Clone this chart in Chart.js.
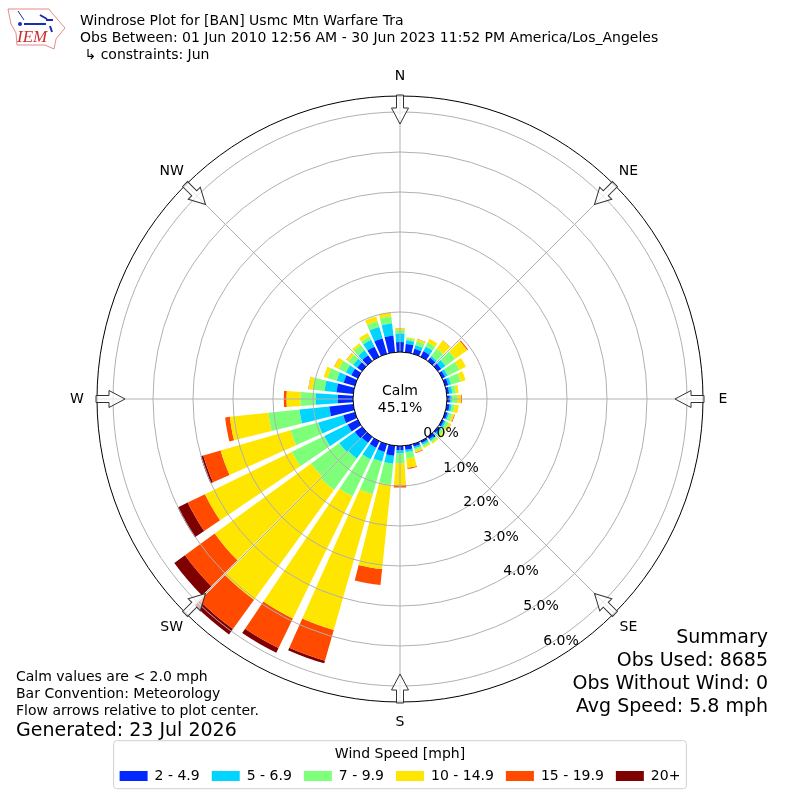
<!DOCTYPE html>
<html>
<head>
<meta charset="utf-8">
<title>Windrose</title>
<script src="https://cdn.jsdelivr.net/npm/chart.js@4/dist/chart.umd.js"></script>
<style>
  html, body { margin: 0; padding: 0; background: #fff; }
  #wrap { width: 800px; height: 800px; }
  canvas { display: block; }
</style>
</head>
<body>
<div id="wrap"><canvas id="rose" width="800" height="800"></canvas></div>
<script>
// Data, frequency in percent by direction the wind blows from
const directions = [0, 10, 20, 30, 40, 50, 60, 70, 80, 90, 100, 110, 120, 130, 140, 150, 160, 170,
  180, 190, 200, 210, 220, 230, 240, 250, 260, 270, 280, 290, 300, 310, 320, 330, 340, 350];
const speed2to5 = [.25, .21, .13, .15, .10, .10, .08, .08, .06, .07, .07, .06, .05, .05, .07, .05, .06, .10,
  .10, .25, .20, .18, .18, .22, .28, .30, .60, .38, .42, .29, .18, .15, .18, .28, .40, .42];
const speed5to7 = [.21, .09, .09, .13, .05, .13, .07, .07, .08, .05, .05, .04, .05, .05, .05, .05, .05, .06,
  .08, .20, .25, .32, .48, .48, .65, .65, .75, .55, .30, .18, .15, .12, .15, .19, .30, .30];
const speed7to10 = [.09, .05, .11, .12, .23, .30, .33, .25, .09, .13, .08, .08, .08, .08, .05, .05, .05, .16,
  .25, .53, .85, 1.03, .97, .87, .90, .72, .78, .38, .30, .24, .20, .15, .16, .09, .15, .18];
const speed10to15 = [.04, .03, .05, .10, .25, .37, .18, .13, .07, .10, .10, .05, .06, .04, .04, .04, .05, .23,
  .55, 2.12, 3.53, 3.40, 3.40, 2.98, 2.42, 1.82, .97, .35, .10, .10, .12, .06, .06, .10, .12, .10];
const speed15to20 = [.01, 0, .01, 0, .01, .03, 0, 0, 0, .02, 0, .02, .01, .01, 0, 0, .02, .03,
  .06, .40, .80, .82, .90, .92, .48, .45, .12, .07, .01, 0, .01, .01, 0, 0, 0, 0];
const speed20up = [0, 0, 0, 0, 0, 0, 0, 0, 0, 0, 0, 0, 0, 0, 0, 0, 0, 0,
  0, 0, .07, .13, .17, .33, .28, .07, 0, 0, 0, 0, 0, 0, 0, 0, 0, 0];
const speedLabels = ["2 - 4.9", "5 - 6.9", "7 - 9.9", "10 - 14.9", "15 - 19.9", "20+"];
const speedColors = ["#0028ff", "#00d4ff", "#7dff7a", "#ffe600", "#ff4a00", "#7f0000"];
const tickValues = [0, 1, 2, 3, 4, 5, 6, 6.4];
const tickLabels = ["0.0%", "1.0%", "2.0%", "3.0%", "4.0%", "5.0%", "6.0%"];
const compassLabels = ["N", "NE", "E", "SE", "S", "SW", "W", "NW"];

const FONT = '"DejaVu Sans", sans-serif';
const BAR_SPAN = 8; // degrees, bins are 10 wide
// the two bars either side of SW nearly touch in the original
const BAR_TWEAK = { 220: { shift: 0.4, span: 8.8 }, 230: { shift: -0.4, span: 8.8 } };

// Stacked polar bars, the library polar area only does full wedges from the center
class WindRoseController extends Chart.PolarAreaController {
  updateElements(arcs, start, count, mode) {
    const chart = this.chart;
    const scale = chart.scales.r;
    const all = chart.data.datasets;
    for (let i = start; i < start + count; i++) {
      let stack = 0;
      for (let k = 0; k < this.index; k++) stack += all[k].data[i];
      const tweak = BAR_TWEAK[directions[i]] || { shift: 0, span: BAR_SPAN };
      const mid = (directions[i] + tweak.shift - 90) * Math.PI / 180;
      const half = (tweak.span / 2) * Math.PI / 180;
      this.updateElement(arcs[i], i, {
        x: scale.xCenter,
        y: scale.yCenter,
        startAngle: mid - half,
        endAngle: mid + half,
        innerRadius: scale.getDistanceFromCenterForValue(stack),
        outerRadius: scale.getDistanceFromCenterForValue(stack + all[this.index].data[i]),
        options: this.resolveDataElementOptions(i, mode),
      }, mode);
    }
  }
}
WindRoseController.id = "windrose";
WindRoseController.defaults = Chart.PolarAreaController.defaults;
WindRoseController.overrides = Chart.PolarAreaController.overrides;
Chart.register(WindRoseController);

function drawText(ctx, text, x, y, size, align) {
  ctx.font = size + "px " + FONT;
  ctx.fillStyle = "#000";
  ctx.textAlign = align || "left";
  ctx.textBaseline = "middle";
  ctx.fillText(text, x, y + size * 0.09); // canvas middle sits a bit high
}

// Flow arrow pointing at the center, drawn pointing "up" then rotated
function drawArrow(ctx, cx, cy, outer, deg) {
  ctx.save();
  ctx.translate(cx, cy);
  ctx.rotate(deg * Math.PI / 180);
  ctx.beginPath();
  ctx.moveTo(-3.5, -outer - 1);
  ctx.lineTo(3.5, -outer - 1);
  ctx.lineTo(3.5, -outer + 12);
  ctx.lineTo(8.5, -outer + 12);
  ctx.lineTo(0, -outer + 28);
  ctx.lineTo(-8.5, -outer + 12);
  ctx.lineTo(-3.5, -outer + 12);
  ctx.closePath();
  ctx.fillStyle = "rgba(255,255,255,0.7)";
  ctx.fill();
  ctx.strokeStyle = "#333";
  ctx.lineWidth = 1;
  ctx.stroke();
  ctx.restore();
}

function drawLogo(ctx) {
  ctx.save();
  ctx.strokeStyle = "#e58a8a";
  ctx.lineWidth = 1;
  ctx.beginPath();
  const outline = [[8, 9], [49, 9], [52, 13], [58, 20], [65, 28], [60, 34], [56, 39], [54, 49], [45, 45], [17, 45], [16, 33], [11, 24]];
  outline.forEach((p, i) => (i ? ctx.lineTo(p[0], p[1]) : ctx.moveTo(p[0], p[1])));
  ctx.closePath();
  ctx.stroke();
  ctx.strokeStyle = "#1a2fb0";
  ctx.fillStyle = "#1a2fb0";
  ctx.lineWidth = 2;
  ctx.beginPath();
  ctx.moveTo(24, 24); ctx.lineTo(46, 24);
  ctx.moveTo(40, 15); ctx.lineTo(47, 19);
  ctx.moveTo(46, 20); ctx.lineTo(53, 20);
  ctx.moveTo(50, 26); ctx.lineTo(52, 32);
  ctx.stroke();
  ctx.lineWidth = 1;
  ctx.beginPath();
  ctx.moveTo(18, 11); ctx.lineTo(24, 20);
  ctx.stroke();
  ctx.beginPath();
  ctx.arc(20, 24, 2, 0, Math.PI * 2);
  ctx.fill();
  ctx.font = 'italic 17px "Liberation Serif", serif';
  ctx.fillStyle = "#d02c2c";
  ctx.textAlign = "left";
  ctx.textBaseline = "middle";
  ctx.fillText("IEM", 17, 38);
  ctx.restore();
}

const rosePlugin = {
  id: "rosePlugin",
  // spokes sit under the rings but over the bars
  afterDatasetsDraw(chart) {
    const ctx = chart.ctx;
    const s = chart.scales.r;
    const inner = s.getDistanceFromCenterForValue(0);
    ctx.save();
    ctx.strokeStyle = "#b0b0b0";
    ctx.lineWidth = 1;
    compassLabels.forEach((label, i) => {
      const a = (i * 45 - 90) * Math.PI / 180;
      ctx.beginPath();
      ctx.moveTo(s.xCenter + inner * Math.cos(a), s.yCenter + inner * Math.sin(a));
      ctx.lineTo(s.xCenter + s.drawingArea * Math.cos(a), s.yCenter + s.drawingArea * Math.sin(a));
      ctx.stroke();
    });
    ctx.restore();
  },
  afterDraw(chart) {
    const ctx = chart.ctx;
    const s = chart.scales.r;
    ctx.save();

    // Compass arrows and labels
    compassLabels.forEach((label, i) => {
      const deg = i * 45;
      const a = (deg - 90) * Math.PI / 180;
      drawArrow(ctx, s.xCenter, s.yCenter, s.drawingArea, deg);
      drawText(ctx, label, s.xCenter + 323 * Math.cos(a), s.yCenter + 323 * Math.sin(a) - 1, 14, "center");
    });

    // Radial tick labels run along the 150 degree line
    const labelAngle = (150 - 90) * Math.PI / 180;
    tickLabels.forEach((label, i) => {
      const r = s.getDistanceFromCenterForValue(tickValues[i]);
      drawText(ctx, label, s.xCenter + r * Math.cos(labelAngle) + 17.5, s.yCenter + r * Math.sin(labelAngle) - 7.7, 14, "center");
    });

    // Calm
    drawText(ctx, "Calm", s.xCenter, 390, 14, "center");
    drawText(ctx, "45.1%", s.xCenter, 407, 14, "center");

    // Header
    drawLogo(ctx);
    drawText(ctx, "Windrose Plot for [BAN] Usmc Mtn Warfare Tra", 80, 20.5, 14);
    drawText(ctx, "Obs Between: 01 Jun 2010 12:56 AM - 30 Jun 2023 11:52 PM America/Los_Angeles", 80, 37, 14);
    drawText(ctx, " \u21b3 constraints: Jun", 80, 54, 14);

    // Footnotes
    drawText(ctx, "Calm values are < 2.0 mph", 16, 676, 14);
    drawText(ctx, "Bar Convention: Meteorology", 16, 693, 14);
    drawText(ctx, "Flow arrows relative to plot center.", 16, 710, 14);
    drawText(ctx, "Generated: 23 Jul 2026", 16, 729, 19);

    // Summary
    drawText(ctx, "Summary", 768, 636, 19, "right");
    drawText(ctx, "Obs Used: 8685", 768, 659, 19, "right");
    drawText(ctx, "Obs Without Wind: 0", 768, 682, 19, "right");
    drawText(ctx, "Avg Speed: 5.8 mph", 768, 705, 19, "right");

    // Legend frame
    const boxes = chart.legend.legendHitBoxes;
    const left = boxes[0].left - 6;
    const last = boxes[boxes.length - 1];
    const right = last.left + last.width + 6;
    ctx.beginPath();
    ctx.roundRect(left, chart.legend.top, right - left, 48, 3);
    ctx.strokeStyle = "#d0d0d0";
    ctx.lineWidth = 1;
    ctx.stroke();
    ctx.restore();
  },
};

const seriesValues = [speed2to5, speed5to7, speed7to10, speed10to15, speed15to20, speed20up];

new Chart(document.getElementById("rose"), {
  type: "windrose",
  data: {
    labels: directions.map(String),
    datasets: seriesValues.map((values, i) => ({
      label: speedLabels[i],
      data: values,
      backgroundColor: speedColors[i],
    })),
  },
  plugins: [rosePlugin],
  options: {
    responsive: false,
    animation: false,
    layout: { padding: { left: 97, right: 97, top: 59, bottom: 7 } },
    elements: { arc: { borderWidth: 0 } },
    scales: {
      r: {
        type: "radialLinear",
        min: -1.175,
        max: 6.4,
        afterBuildTicks: (scale) => {
          scale.ticks = tickValues.map((v) => ({ value: v }));
        },
        ticks: { display: false },
        pointLabels: { display: false },
        angleLines: { display: false },
        grid: {
          z: 1,
          circular: true,
          lineWidth: 1,
          color: (ctx) => (ctx.tick.value === 0 || ctx.tick.value === 6.4 ? "#000" : "#b0b0b0"),
        },
      },
    },
    plugins: {
      tooltip: { enabled: false },
      legend: {
        position: "bottom",
        title: { display: true, text: "Wind Speed [mph]", color: "#000", font: { family: FONT, size: 14 }, padding: { top: 6.5, bottom: -7 } },
        labels: {
          color: "#000",
          font: { family: FONT, size: 14 },
          boxWidth: 28,
          boxHeight: 10,
          padding: 12,
          generateLabels: (chart) => chart.data.datasets.map((d, i) => ({
            text: d.label,
            fillStyle: d.backgroundColor,
            strokeStyle: d.backgroundColor,
            lineWidth: 0,
            datasetIndex: i,
          })),
        },
      },
    },
  },
});
</script>
</body>
</html>
